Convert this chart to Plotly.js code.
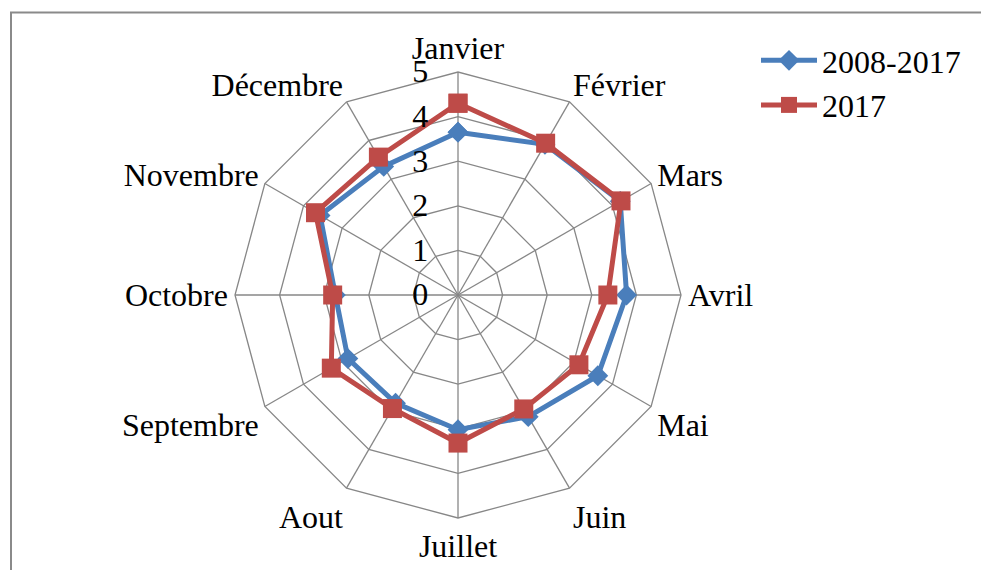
<!DOCTYPE html>
<html>
<head>
<meta charset="utf-8">
<script src="https://cdn.plot.ly/plotly-3.0.1.min.js"></script>
<style>html,body{margin:0;padding:0;background:#fff;}#chart{width:981px;height:570px;}</style>
</head>
<body>
<div id="chart"></div>
<script>
const months = ["Janvier","Février","Mars","Avril","Mai","Juin","Juillet","Aout","Septembre","Octobre","Novembre","Décembre"];
const series1Name = "2008-2017";
const series1 = [3.65, 3.9, 4.2, 3.78, 3.62, 3.15, 3.02, 2.8, 2.85, 2.75, 3.57, 3.33];
const series2Name = "2017";
const series2 = [4.3, 3.93, 4.22, 3.36, 3.13, 2.95, 3.32, 2.94, 3.28, 2.81, 3.69, 3.57];
const radialTicks = [0, 1, 2, 3, 4, 5];

function closed(a){ return a.concat([a[0]]); }

const font = {family: "Liberation Serif, Times New Roman, serif", size: 32, color: "#000"};

const traces = [
  {type: "scatterpolar", name: series1Name, r: closed(series1), theta: closed(months),
   mode: "lines+markers", line: {color: "#4A7EBB", width: 5},
   marker: {symbol: "diamond", size: 16, color: "#4A7EBB"}},
  {type: "scatterpolar", name: series2Name, r: closed(series2), theta: closed(months),
   mode: "lines+markers", line: {color: "#BE4B48", width: 5},
   marker: {symbol: "square", size: 19, color: "#BE4B48"}}
];

const cx = 458, cy = 295, R = 223, W = 981, H = 570;
const layout = {
  width: W, height: H,
  margin: {l: 0, r: 0, t: 0, b: 0},
  paper_bgcolor: "#fff",
  font: font,
  showlegend: true,
  legend: {x: 756/W, y: 1 - 33/H, xanchor: "left", yanchor: "top", font: font,
           bgcolor: "rgba(0,0,0,0)", itemwidth: 56, tracegroupgap: 0},
  polar: {
    domain: {x: [(cx - R)/W, (cx + R)/W], y: [(H - cy - R)/H, (H - cy + R)/H]},
    bgcolor: "#fff",
    gridshape: "linear",
    radialaxis: {range: [0, 5], tickvals: radialTicks, ticktext: radialTicks.map(String),
                 angle: 90, tickangle: 90, side: "counterclockwise",
                 showline: false, gridcolor: "#878787", gridwidth: 1.3,
                 ticks: "outside", ticklen: 18, tickcolor: "rgba(0,0,0,0)", tickfont: font},
    angularaxis: {direction: "clockwise", rotation: 90, gridcolor: "#878787", gridwidth: 1.3,
                  linecolor: "#878787", linewidth: 1.3, ticks: "", tickfont: font}
  },
  shapes: [{type: "rect", xref: "paper", yref: "paper",
            x0: 11/W, x1: 1.05, y0: -0.05, y1: 1 - 12.5/H,
            line: {color: "#8a8a8a", width: 2}}]
};

Plotly.newPlot("chart", traces, layout, {displayModeBar: false, staticPlot: true});
</script>
</body>
</html>
